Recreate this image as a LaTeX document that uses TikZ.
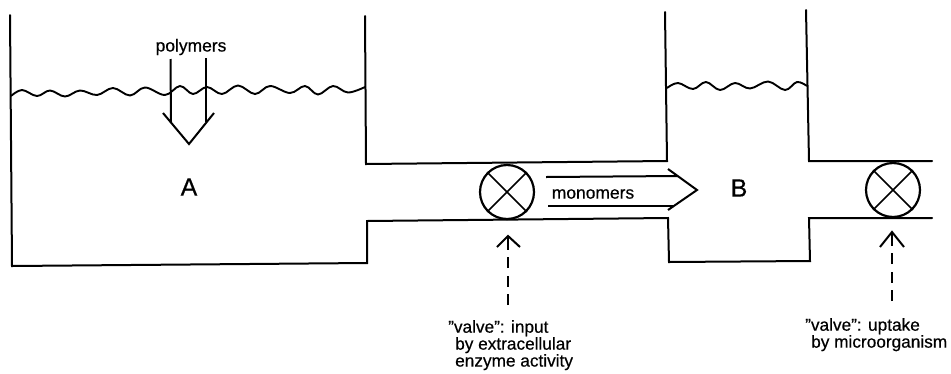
\documentclass[tikz,border=0pt]{standalone}
\usepackage{fontspec}
\setmainfont{Liberation Sans}[FakeBold=0.5]
\lineskiplimit=-50pt
\tikzset{
  x=1bp,y=-1bp,
  wall/.style={line width=2bp,line join=miter,line cap=round},
  wave/.style={line width=1.9bp},
  arrowline/.style={line width=2bp,line join=miter},
  dashline/.style={line width=2.8bp,dash pattern=on 11bp off 7.5bp},
  valve/.style={circle,draw,line width=2.2bp,minimum size=54bp,inner sep=0pt},
  spoke/.style={line width=1.6bp},
  lab/.style={font=\fontsize{17.5}{18}\selectfont,inner sep=0pt},
  biglab/.style={font=\fontsize{25}{26}\selectfont,inner sep=0pt},
  caption/.style={font=\fontsize{17.3}{17}\selectfont,inner sep=0pt,align=left,anchor=north west}
}
\begin{document}
\begin{tikzpicture}
\useasboundingbox (0,0) rectangle (951,373);
% vessel walls
\draw[wall] (10,15) -- (12,266) -- (367,263) -- (367,221) -- (668,218) -- (669,262) -- (810,261) -- (809,218) -- (932,218);
\draw[wall] (365,16) -- (366,164) -- (667,161) -- (665,12);
\draw[wall] (806,10) -- (809,161) -- (932,161);
% liquid surfaces
\draw[wave] plot[smooth,tension=0.6] coordinates {(11,96) (22,90) (37,96) (50,90.5) (65,96.5) (80,90.5) (97,95) (113,88) (130,95.5) (145,87.5) (165,95) (180,86) (193,94) (207,87) (222,94) (238,85.5) (255,94) (270,86) (290,93) (305,86) (318,94.5) (333,86) (348,92.5) (365,87)};
\draw[wave] plot[smooth,tension=0.6] coordinates {(667,88) (678,83) (693,89) (706,82) (720,90) (735,83) (750,88.5) (768,81.5) (785,90) (797,82) (807,86)};
% polymers arrow
\coordinate (pa1) at (170.5,59); \coordinate (pa2) at (171,122);
\coordinate (pb1) at (206,58); \coordinate (pb2) at (206,122);
\coordinate (ph1) at (163,113); \coordinate (ph2) at (189,144); \coordinate (ph3) at (214,113);
\draw[arrowline] (pa1) -- (pa2);
\draw[arrowline] (pb1) -- (pb2);
\draw[arrowline] (ph1) -- (ph2) -- (ph3);
\node[lab] (polymers) at (191,47) {polymers};
\node[biglab] (A) at (189,187) {A};
\node[biglab] (B) at (739,188) {B};
% valves
\node[valve] (v1) at (507,192) {};
\node[valve] (v2) at (893,190) {};
\foreach \v in {v1,v2}{
  \draw[spoke] (\v.45) -- (\v.225);
  \draw[spoke] (\v.135) -- (\v.315);
}
% monomers arrow
\coordinate (m1) at (546,177); \coordinate (m2) at (678,176);
\coordinate (m3) at (548,206); \coordinate (m4) at (674,206);
\coordinate (mh1) at (668,169); \coordinate (mh2) at (697,190); \coordinate (mh3) at (668,210);
\draw[arrowline] (m1) -- (m2);
\draw[arrowline] (m3) -- (m4);
\draw[arrowline] (mh1) -- (mh2) -- (mh3);
\node[lab] (monomers) at (593,194) {monomers};
% dashed arrows
\coordinate (d1) at (508,305); \coordinate (t1) at (508,236);
\coordinate (d2) at (892,301); \coordinate (t2) at (892,232);
\draw[dashline] (d1) -- (508,250);
\draw[dashline] (d2) -- (892,246);
\draw[arrowline] (t1) -- (508,250);
\draw[arrowline] (t2) -- (892,246);
\draw[arrowline] (497,247) -- (t1) -- (520,247);
\draw[arrowline] (880,247) -- (t2) -- (904,247);
% captions
\node[caption] (c1) at (448,320) {"valve": input\\\hspace{7bp}by extracellular\\\hspace{7bp}enzyme\ activity};
\node[caption] (c2) at (805,318) {"valve": uptake\\\hspace{6bp}by microorganism};
\end{tikzpicture}
\end{document}
